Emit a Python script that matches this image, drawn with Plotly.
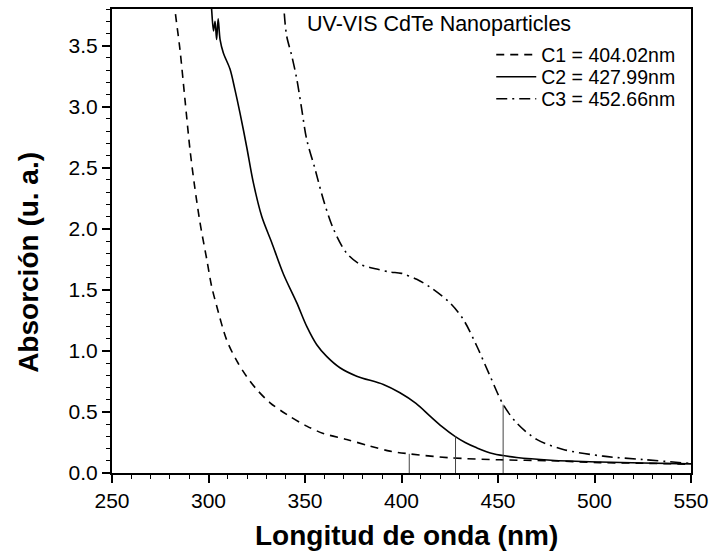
import plotly.graph_objects as go

# ---- data ----
c1_x = [281.0, 282.6, 285.2, 287.8, 290.4, 292.8, 295.6, 299.1, 301.6, 304.2, 309.4, 314.6, 319.8, 325.0,
        331.9, 340.5, 350.9, 359.5, 371.6, 383.7, 394.0, 404.0, 425.0, 451.0, 477.5, 502.8, 525.0, 550.0]
c1_y = [4.10, 3.80, 3.47, 3.06, 2.65, 2.35, 2.05, 1.75, 1.53, 1.37, 1.09, 0.92, 0.79, 0.684,
        0.575, 0.48, 0.384, 0.324, 0.275, 0.22, 0.179, 0.157, 0.125, 0.108, 0.10, 0.085, 0.08, 0.072]

c2_x = [300.9, 301.6, 302.6, 303.4, 304.2, 305.0, 306.0, 307.7, 311.1, 313.7, 316.3, 319.8, 323.2, 327.6,
        332.7, 338.8, 345.7, 350.9, 356.1, 361.2, 368.1, 376.8, 390.6, 399.2, 407.5, 414.8,
        421.0, 427.7, 433.0, 439.0, 447.6, 459.7, 477.5, 502.8, 525.0, 550.0]
c2_y = [3.95, 3.80, 3.62, 3.70, 3.55, 3.72, 3.55, 3.44, 3.31, 3.14, 2.95, 2.67, 2.38, 2.10,
        1.89, 1.63, 1.395, 1.20, 1.05, 0.955, 0.862, 0.793, 0.725, 0.657, 0.57, 0.466,
        0.38, 0.30, 0.25, 0.206, 0.157, 0.127, 0.105, 0.09, 0.082, 0.075]

c3_x = [338.7, 339.1, 340.5, 343.1, 345.7, 348.3, 350.9, 355.2, 359.5, 364.7, 371.6, 378.5, 387.2, 394.2, 400.0,
        407.9, 415.0, 425.0, 432.0, 439.0, 446.0, 452.7, 459.7, 470.0, 483.8, 504.5, 525.2, 550.0]
c3_y = [3.95, 3.80, 3.58, 3.42, 3.23, 2.98, 2.73, 2.49, 2.24, 2.00, 1.80, 1.71, 1.67, 1.646, 1.635,
        1.586, 1.52, 1.395, 1.258, 1.04, 0.79, 0.56, 0.41, 0.275, 0.193, 0.138, 0.11, 0.078]

names = ["C1 = 404.02nm", "C2 = 427.99nm", "C3 = 452.66nm"]
peak_x = [404.02, 427.99, 452.66]
peak_y = [0.157, 0.30, 0.56]

x_ticks = [250, 300, 350, 400, 450, 500, 550]
y_ticks = [0.0, 0.5, 1.0, 1.5, 2.0, 2.5, 3.0, 3.5]

FONT = "Liberation Sans, Arial, sans-serif"

fig = go.Figure()
styles = [dict(dash="8px,6px"), dict(dash="solid"), dict(dash="11px,5px,2px,5px")]
legend_ids = ["legend", "legend2", "legend3"]
for xs, ys, nm, st, lg in zip([c1_x, c2_x, c3_x], [c1_y, c2_y, c3_y], names, styles, legend_ids):
    fig.add_trace(go.Scatter(x=xs, y=ys, name=nm, mode="lines", legend=lg,
                             line=dict(color="black", width=1.6, shape="spline", smoothing=0.9, **st)))

for px, py in zip(peak_x, peak_y):
    fig.add_trace(go.Scatter(x=[px, px], y=[0, py], mode="lines", showlegend=False,
                             line=dict(color="#444444", width=1), hoverinfo="skip"))

axis_common = dict(showline=True, linecolor="black", linewidth=2, mirror=True,
                   ticks="outside", ticklen=8, tickwidth=1.5, tickcolor="black",
                   showgrid=False, zeroline=False, automargin=False,
                   tickfont=dict(family=FONT, size=21, color="black"))

fig.update_xaxes(range=[250, 550], tickvals=x_ticks,
                 minor=dict(ticks="outside", ticklen=4, tickwidth=1.2, tickcolor="black", dtick=10, tick0=250),
                 **axis_common)
fig.update_yaxes(range=[0, 3.8], tickvals=y_ticks, tickformat=".1f",
                 minor=dict(ticks="outside", ticklen=4, tickwidth=1.2, tickcolor="black", dtick=0.1, tick0=0),
                 **axis_common)

leg_common = dict(x=0.655, xanchor="left", yanchor="middle",
                  bgcolor="rgba(0,0,0,0)", borderwidth=0,
                  font=dict(family=FONT, size=19.5, color="black"), itemwidth=40)

fig.update_layout(
    width=710, height=552,
    margin=dict(l=112, r=19, t=9, b=79, autoexpand=False),
    plot_bgcolor="white", paper_bgcolor="white",
    font=dict(family=FONT, color="black"),
    showlegend=True,
    legend=dict(y=0.9009, **leg_common),
    legend2=dict(y=0.8534, **leg_common),
    legend3=dict(y=0.8060, **leg_common),
    annotations=[
        dict(text="UV-VIS CdTe Nanoparticles", xref="paper", yref="paper", x=0.333, y=0.968,
             xanchor="left", yanchor="middle", showarrow=False,
             font=dict(family=FONT, size=21.5, color="black")),
        dict(text="<b>Longitud de onda (nm)</b>", xref="paper", yref="paper", x=0.508, y=-0.134,
             xanchor="center", yanchor="middle", showarrow=False,
             font=dict(family=FONT, size=28, color="black")),
        dict(text="<b>Absorción (u. a.)</b>", xref="paper", yref="paper", x=-0.1434, y=0.455,
             xanchor="center", yanchor="middle", showarrow=False, textangle=-90,
             font=dict(family=FONT, size=28, color="black")),
    ],
)

fig.write_html("out.html")
